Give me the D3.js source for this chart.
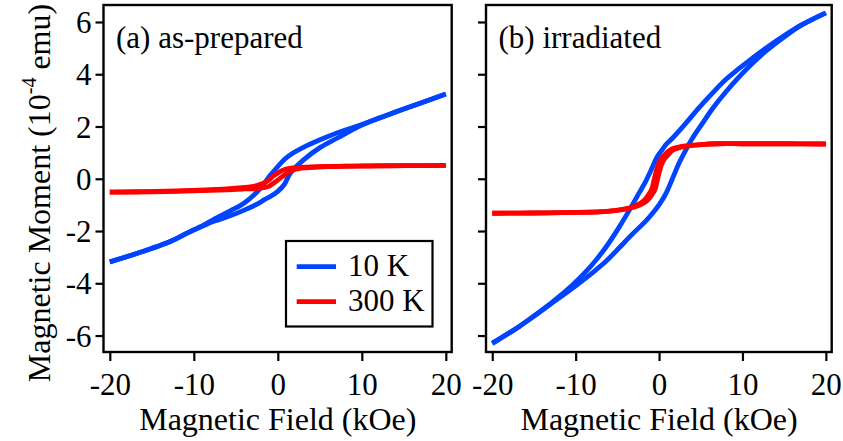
<!DOCTYPE html>
<html><head><meta charset="utf-8">
<script src="https://cdn.jsdelivr.net/npm/d3@7"></script>
</head><body style="margin:0;background:#fff">
<svg id="chart" width="843" height="441" style="display:block"></svg>
<script>
// ---- tick labels / categories ----
const yTicks = [-6, -4, -2, 0, 2, 4, 6];
const xTicks = [-20, -10, 0, 10, 20];
const seriesNames = ["10 K", "300 K"];
const panelLabels = ["(a) as-prepared", "(b) irradiated"];
const xTitle = "Magnetic Field (kOe)";

// ---- (a) as-prepared, 10 K : [field kOe, moment 1e-4 emu] ----
const aBlueDown = [[20,3.24],[15,2.67],[11,2.19],[9.5,2.02],[7.1,1.76],[5.1,1.5],[3.1,1.21],[1.5,0.92],[0.75,0.73],[0,0.47],[-0.85,0.15],[-1.6,-0.17],[-2.4,-0.48],[-4,-0.93],[-5.6,-1.22],[-7.6,-1.55],[-9,-1.8],[-10.8,-2.08],[-12.8,-2.4],[-16.7,-2.85],[-20,-3.18]];
const aBlueUp   = [[-20,-3.18],[-16.7,-2.85],[-12.8,-2.4],[-10.8,-2.08],[-9,-1.82],[-7.6,-1.63],[-5.6,-1.41],[-4,-1.2],[-2.4,-0.96],[-1.6,-0.8],[-0.85,-0.67],[0,-0.48],[0.75,-0.23],[1.5,0.22],[3.1,0.73],[5.1,1.21],[7.1,1.56],[9.5,1.98],[11,2.19],[15,2.67],[20,3.24]];
// ---- (a) as-prepared, 300 K ----
const aRedDown = [[20,0.51],[15,0.5],[10,0.49],[6,0.47],[4,0.45],[2,0.43],[1.2,0.39],[0.67,0.34],[0,0.22],[-0.52,0.11],[-1,-0.03],[-1.7,-0.17],[-2.5,-0.26],[-3.3,-0.31],[-5,-0.36],[-8,-0.42],[-12,-0.46],[-16,-0.49],[-20,-0.51]];
const aRedUp   = [[-20,-0.51],[-15,-0.5],[-10,-0.46],[-6,-0.42],[-4,-0.39],[-2.5,-0.37],[-1.7,-0.34],[-1,-0.28],[-0.52,-0.17],[0,-0.05],[0.67,0.11],[1.2,0.24],[1.86,0.34],[2.5,0.39],[3.3,0.42],[5,0.46],[8,0.48],[12,0.49],[16,0.5],[20,0.51]];

// ---- (b) irradiated, 10 K ----
const bBlueDown = [[20,6.35],[17,5.87],[15.2,5.52],[12.8,5.0],[11.2,4.62],[9.6,4.22],[8,3.8],[6.4,3.28],[4.8,2.72],[3.2,2.12],[1.6,1.55],[0.8,1.3],[0.4,1.12],[0,0.95],[-0.4,0.73],[-1,0.3],[-1.6,-0.1],[-2.4,-0.55],[-3.2,-1.0],[-4.8,-1.86],[-6.4,-2.63],[-8,-3.28],[-9.6,-3.82],[-11.2,-4.3],[-12.8,-4.72],[-14.8,-5.2],[-16.8,-5.66],[-20,-6.3]];
const bBlueUp   = [[-20,-6.3],[-16.8,-5.66],[-14.8,-5.22],[-12.8,-4.75],[-11.2,-4.38],[-9.6,-4.0],[-8,-3.6],[-6.4,-3.17],[-4.8,-2.65],[-3.2,-2.12],[-1.6,-1.62],[-0.8,-1.33],[0,-1.0],[0.8,-0.58],[1.6,0.0],[2.4,0.6],[3.2,1.1],[4,1.55],[5.2,2.12],[6.4,2.68],[8,3.32],[9.6,3.9],[11.2,4.42],[12.8,4.88],[15.2,5.47],[17,5.87],[20,6.35]];
// ---- (b) irradiated, 300 K ----
const bRedDown = [[20,1.33],[15,1.34],[10,1.34],[7,1.34],[5,1.31],[2.7,1.24],[1.3,1.1],[0.7,0.92],[0.3,0.78],[-0.1,0.54],[-0.5,0.09],[-0.9,-0.42],[-1.2,-0.58],[-1.7,-0.8],[-2.2,-0.93],[-3.3,-1.09],[-5.2,-1.21],[-7,-1.27],[-10,-1.29],[-15,-1.31],[-20,-1.32]];
const bRedUp   = [[-20,-1.32],[-15,-1.31],[-10,-1.29],[-7,-1.26],[-4.8,-1.2],[-2.9,-1.08],[-1.8,-0.93],[-1.3,-0.8],[-0.8,-0.58],[-0.5,-0.42],[-0.1,0.09],[0.3,0.54],[0.7,0.78],[1.1,0.92],[1.7,1.1],[3.1,1.24],[5.2,1.31],[7,1.34],[10,1.34],[15,1.34],[20,1.33]];

const BLUE = "#0044ff", RED = "#ff0000";
const SERIF = "Liberation Serif";
const TITLEFONT = 32, TICKFONT = 31, LABELFONT = 31;
const fmt = d => String(d);

const svg = d3.select("#chart");
const plotTop = 5, plotBottom = 352;
const y = d3.scaleLinear().domain([-6.63, 6.65]).range([plotBottom, plotTop]);

const setFont = sel => sel.attr("font-family", SERIF).each(function () {
  this.style.setProperty("font-family", '"Liberation Serif"', "important");
});

const panels = [
  {x0: 103.5, x1: 451.7, label: panelLabels[0], blue: [aBlueDown, aBlueUp], red: [aRedDown, aRedUp], showY: true, labelX: 116},
  {x0: 486, x1: 831.7, label: panelLabels[1], blue: [bBlueDown, bBlueUp], red: [bRedDown, bRedUp], showY: false, labelX: 498.5}
];

panels.forEach(p => {
  const x = d3.scaleLinear().domain([-20.75, 20.7]).range([p.x0, p.x1]);
  const g = svg.append("g");
  const line = d3.line().x(d => x(d[0])).y(d => y(d[1])).curve(d3.curveCatmullRom.alpha(0.5));

  const drawBranch = (data, color) => {
    const sorted = data.slice().sort((a, b) => a[0] - b[0]);
    g.append("path").attr("d", line(sorted)).attr("fill", "none")
      .attr("stroke", color).attr("stroke-width", 4.8)
      .attr("stroke-linejoin", "round").attr("stroke-linecap", "butt");
  };
  p.blue.forEach(b => drawBranch(b, BLUE));
  p.red.forEach(b => drawBranch(b, RED));

  // frame
  g.append("rect").attr("x", p.x0).attr("y", plotTop).attr("width", p.x1 - p.x0).attr("height", plotBottom - plotTop)
    .attr("fill", "none").attr("stroke", "#000").attr("stroke-width", 2.4);

  // y axis
  const ya = d3.axisLeft(y).tickValues(yTicks).tickSize(8).tickPadding(4)
    .tickFormat(p.showY ? fmt : () => "");
  const yg = g.append("g").attr("transform", `translate(${p.x0},0)`).call(ya);
  yg.select(".domain").remove();
  yg.attr("font-family", SERIF);
  yg.selectAll("line").attr("stroke", "#000").attr("stroke-width", 2.2);
  yg.selectAll("text").attr("font-size", TICKFONT).attr("dy", "0.34em").call(setFont);

  // x axis
  const xa = d3.axisBottom(x).tickValues(xTicks).tickSize(9).tickPadding(13).tickFormat(fmt);
  const xg = g.append("g").attr("transform", `translate(0,${plotBottom})`).call(xa);
  xg.select(".domain").remove();
  xg.attr("font-family", SERIF);
  xg.selectAll("line").attr("stroke", "#000").attr("stroke-width", 2.2);
  xg.selectAll("text").attr("font-size", TICKFONT).attr("dy", "0.68em").call(setFont);

  // x title
  g.append("text").attr("x", x(0)).attr("y", 430).attr("text-anchor", "middle")
    .attr("font-size", TITLEFONT).call(setFont).text(xTitle);

  // panel label
  g.append("text").attr("x", p.labelX).attr("y", 48).attr("font-size", LABELFONT).call(setFont).text(p.label);
});

// y title
const yt = svg.append("text").attr("transform", "translate(50,193) rotate(-90)")
  .attr("text-anchor", "middle").attr("font-size", TITLEFONT).call(setFont);
yt.append("tspan").text("Magnetic Moment (10");
yt.append("tspan").attr("font-size", 20).attr("dy", -14).text("-4");
yt.append("tspan").attr("dy", 14).text(" emu)");

// legend
const lg = svg.append("g");
lg.append("rect").attr("x", 286).attr("y", 241).attr("width", 146.5).attr("height", 85.5)
  .attr("fill", "#fff").attr("stroke", "#000").attr("stroke-width", 2.2);
[BLUE, RED].forEach((c, i) => {
  const yy = 266.7 + i * 35;
  lg.append("line").attr("x1", 296.7).attr("x2", 336).attr("y1", yy).attr("y2", yy)
    .attr("stroke", c).attr("stroke-width", 4.8);
  lg.append("text").attr("x", 348).attr("y", yy + 9.5).attr("font-size", LABELFONT).call(setFont).text(seriesNames[i]);
});

svg.selectAll("text").attr("fill", "#000").call(setFont);
</script>
</body></html>
